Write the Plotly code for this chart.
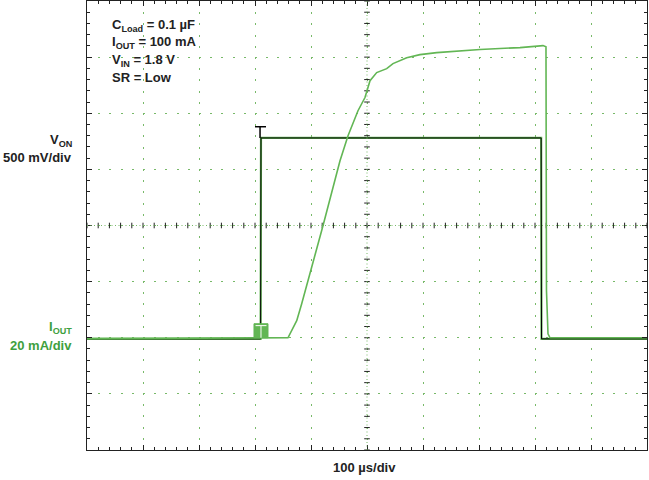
import plotly.graph_objects as go

# ---- data (time in µs, V_ON in V, I_OUT in mA) ----
von_t = [0, 310.0, 310.7, 811.0, 811.6, 1000]
von_v = [-0.01, -0.01, 1.78, 1.78, -0.01, -0.01]

iout_t = [0, 358.9, 374.5, 383.4, 421.4, 451.8, 466.1, 483.9, 496.4, 505.4, 517.3,
          535.2, 546.4, 570.9, 594.6, 624.5, 701.8, 773.2, 814.3, 819.6, 820.5,
          823.2, 826.8, 1000]
iout_ma = [-0.3, 0.0, 6.1, 12.1, 39.9, 63.1, 72.0, 80.9, 85.6, 91.6, 94.5,
           95.9, 97.7, 99.8, 100.9, 101.6, 102.7, 103.4, 104.1, 103.7, 16.8,
           1.4, 0.0, 0.0]

x_label = "100 µs/div"
ch1_name = "V<sub>ON</sub>"
ch1_scale = "500 mV/div"
ch2_name = "I<sub>OUT</sub>"
ch2_scale = "20 mA/div"
conditions = ["C<sub>Load</sub> = 0.1 µF", "I<sub>OUT</sub> = 100 mA",
              "V<sub>IN</sub> = 1.8 V", "SR = Low"]

GREEN = "rgb(98,182,84)"
GREEN_TXT = "rgb(62,160,62)"
GRID = "rgb(120,185,105)"
DARK = "#222222"
FONT = "Liberation Sans, Arial, sans-serif"

fig = go.Figure()

# V_ON: green shadow + black trace
fig.add_trace(go.Scatter(x=von_t, y=von_v, mode="lines",
                         line=dict(color=GREEN, width=2.2), hoverinfo="skip", showlegend=False))
fig.add_trace(go.Scatter(x=von_t, y=von_v, mode="lines",
                         line=dict(color="black", width=1), showlegend=False))
# I_OUT on secondary axis
fig.add_trace(go.Scatter(x=iout_t, y=iout_ma, mode="lines", yaxis="y2",
                         line=dict(color=GREEN, width=1.6), showlegend=False))

# center crosshair tick marks
cx = [i * 20 for i in range(51)]
fig.add_trace(go.Scatter(x=cx, y=[1.0] * len(cx), mode="markers", hoverinfo="skip",
                         marker=dict(symbol="line-ns", size=4, line=dict(width=1, color=DARK)),
                         showlegend=False))
cy = [-1 + i * 0.1 for i in range(41)]
fig.add_trace(go.Scatter(x=[500] * len(cy), y=cy, mode="markers", hoverinfo="skip",
                         marker=dict(symbol="line-ew", size=4, line=dict(width=1, color=DARK)),
                         showlegend=False))

shapes = [
    dict(type="line", xref="x", yref="y", x0=0, x1=1000, y0=1.0, y1=1.0,
         line=dict(color=GRID, width=1, dash="1px,2.5px")),
    dict(type="line", xref="x", yref="y", x0=500, x1=500, y0=-1, y1=3,
         line=dict(color=GRID, width=1, dash="1px,2.5px")),
    # trigger marker (bottom)
    dict(type="rect", xref="x", yref="y", x0=298.2, x1=323.2, y0=0.0, y1=0.125,
         fillcolor=GREEN, line=dict(color=GREEN, width=1)),
    dict(type="line", xref="x", yref="y", x0=301, x1=320.5, y0=0.108, y1=0.108,
         line=dict(color="white", width=1)),
    dict(type="line", xref="x", yref="y", x0=310.7, x1=310.7, y0=0.0, y1=0.108,
         line=dict(color="white", width=1)),
    # marker at top of step
    dict(type="line", xref="x", yref="y", x0=300, x1=319.6, y0=1.88, y1=1.88,
         line=dict(color="black", width=1.5)),
    dict(type="line", xref="x", yref="y", x0=309, x1=309, y0=1.78, y1=1.88,
         line=dict(color="black", width=1.5)),
]

W, H, L, R, T, B = 649, 480, 87, 2, 1, 30
def px(xp):
    return (xp - L) / (W - L - R)
def py(yp):
    return 1 - (yp - T) / (H - T - B)

annotations = [
    dict(text="<b>" + x_label + "</b>", x=px(364), y=py(467), xref="paper", yref="paper",
         xanchor="center", yanchor="middle",
         showarrow=False, font=dict(size=13, color=DARK, family=FONT)),
]
left_labels = [
    (ch1_name, 140, DARK), (ch1_scale, 157, DARK),
    (ch2_name, 327, GREEN_TXT), (ch2_scale, 345, GREEN_TXT),
]
for txt, yp, col in left_labels:
    annotations.append(dict(text="<b>" + txt + "</b>", x=px(74), y=py(yp), xref="paper", yref="paper",
                            xanchor="right", yanchor="middle", showarrow=False,
                            font=dict(size=13, color=col, family=FONT)))
for i, txt in enumerate(conditions):
    annotations.append(dict(text="<b>" + txt + "</b>", x=px(110), y=py(25 + i * 17.5),
                            xref="paper", yref="paper", xanchor="left", yanchor="middle",
                            showarrow=False, font=dict(size=13, color=DARK, family=FONT)))

fig.update_layout(
    width=W, height=H, margin=dict(l=L, r=R, t=T, b=B, autoexpand=False),
    paper_bgcolor="white", plot_bgcolor="white",
    shapes=shapes, annotations=annotations, showlegend=False,
    xaxis=dict(range=[0, 1000], dtick=100, showgrid=True, gridcolor=GRID, griddash="2px,9.2px",
               gridwidth=1, zeroline=False, showticklabels=False, showline=True,
               linecolor=DARK, linewidth=1, mirror="ticks", ticks="inside", ticklen=5,
               tickcolor=DARK,
               minor=dict(dtick=20, ticks="inside", ticklen=3, tickcolor=DARK, showgrid=False)),
    yaxis=dict(range=[-1, 3], dtick=0.5, showgrid=True, gridcolor=GRID, griddash="2px,9.2px",
               gridwidth=1, zeroline=False, showticklabels=False, showline=True,
               linecolor=DARK, linewidth=1, mirror="ticks", ticks="inside", ticklen=5,
               tickcolor=DARK,
               minor=dict(dtick=0.1, ticks="inside", ticklen=3, tickcolor=DARK, showgrid=False)),
    yaxis2=dict(range=[-40, 120], overlaying="y", showgrid=False, showticklabels=False,
                zeroline=False, ticks="", showline=False),
)

fig.write_html("out.html", config={"displayModeBar": False},
               post_script="document.body.style.margin='0';document.body.style.overflow='hidden';")
